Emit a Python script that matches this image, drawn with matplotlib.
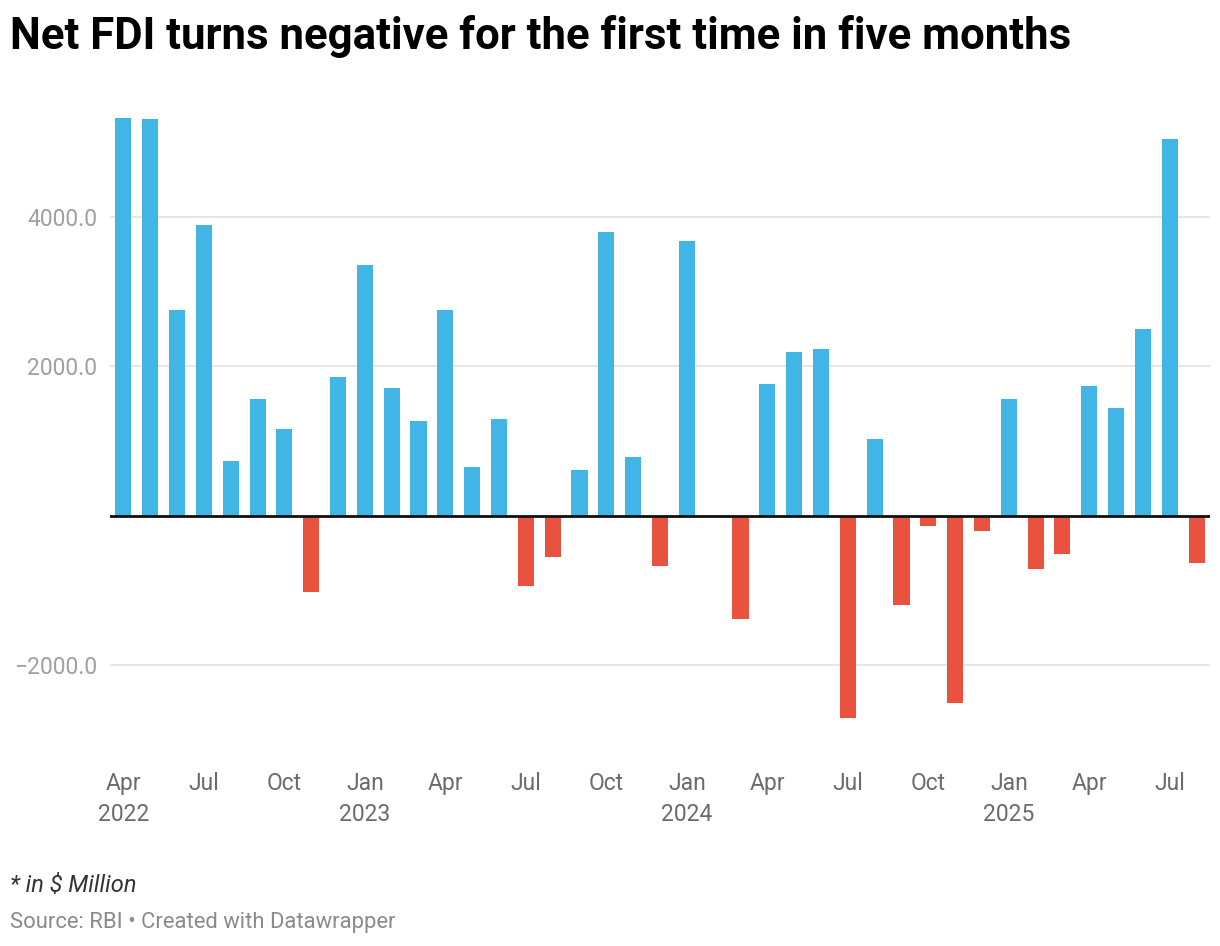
import numpy as np
import matplotlib
matplotlib.use("Agg")
import matplotlib.pyplot as plt

plt.rcParams['font.family'] = ['Roboto', 'DejaVu Sans']

# monthly net FDI, $ million, Apr 2022 .. Aug 2025
months = ["Apr 2022", "May 2022", "Jun 2022", "Jul 2022", "Aug 2022", "Sep 2022",
          "Oct 2022", "Nov 2022", "Dec 2022", "Jan 2023", "Feb 2023", "Mar 2023",
          "Apr 2023", "May 2023", "Jun 2023", "Jul 2023", "Aug 2023", "Sep 2023",
          "Oct 2023", "Nov 2023", "Dec 2023", "Jan 2024", "Feb 2024", "Mar 2024",
          "Apr 2024", "May 2024", "Jun 2024", "Jul 2024", "Aug 2024", "Sep 2024",
          "Oct 2024", "Nov 2024", "Dec 2024", "Jan 2025", "Feb 2025", "Mar 2025",
          "Apr 2025", "May 2025", "Jun 2025", "Jul 2025", "Aug 2025"]
values = [5325, 5312, 2756, 3894, 736, 1565,
          1164, -1017, 1860, 3358, 1713, 1271,
          2756, 656, 1298, -937, -549, 615,
          3800, 789, -669, 3680, 0, -1378,
          1766, 2194, 2234, -2703, 1030, -1191,
          -134, -2502, -201, 1565, -709, -508,
          1739, 1445, 2502, 5044, -629]

tick_idx = [0, 3, 6, 9, 12, 15, 18, 21, 24, 27, 30, 33, 36, 39]
tick_labels = ["Apr\n2022", "Jul", "Oct", "Jan\n2023", "Apr", "Jul", "Oct",
               "Jan\n2024", "Apr", "Jul", "Oct", "Jan\n2025", "Apr", "Jul"]
y_ticks = [-2000, 2000, 4000]

blue = "#41b6e6"
red = "#e9523f"

fig = plt.figure(figsize=(12.2, 9.46), dpi=100, facecolor='w')
ax = fig.add_axes([110/1220, 1 - 740/946, 1100/1220, 630/946])

x = np.arange(len(values))
vals = np.array(values)
colors = [blue if v >= 0 else red for v in vals]
ax.bar(x, vals, width=0.6, color=colors, zorder=2)

ax.set_xlim(-0.5, len(values) - 0.5)
ax.set_ylim(-3000, 5430)

ax.set_yticks(y_ticks)
ax.set_yticklabels(["\u22122000.0", "2000.0", "4000.0"])
ax.yaxis.grid(True, color='#e2e2e2', lw=1.2, zorder=0)
ax.axhline(0, color='#111111', lw=2, zorder=3)

ax.set_xticks(tick_idx)
ax.set_xticklabels(tick_labels, linespacing=1.42)
ax.tick_params(axis='x', length=0, pad=23, labelsize=16.5, labelcolor='#6b6b6b')
ax.tick_params(axis='y', length=0, pad=9, labelsize=16.5, labelcolor='#a0a0a0')
for spine in ('top', 'right', 'bottom', 'left'):
    ax.spines[spine].set_visible(False)

fig.text(10/1220, 1 - 37/946, "Net FDI turns negative for the first time in five months",
         fontsize=31.5, fontweight='bold', color='#000000', va='center', ha='left')
fig.text(10/1220, 1 - 886/946, "* in $ Million", fontsize=17, style='italic',
         color='#333333', va='center', ha='left')
fig.text(10/1220, 1 - 922/946, "Source: RBI \u2022 Created with Datawrapper", fontsize=15.8,
         color='#8a8a8a', va='center', ha='left')

fig.savefig("out.png", dpi=100, facecolor='w')
